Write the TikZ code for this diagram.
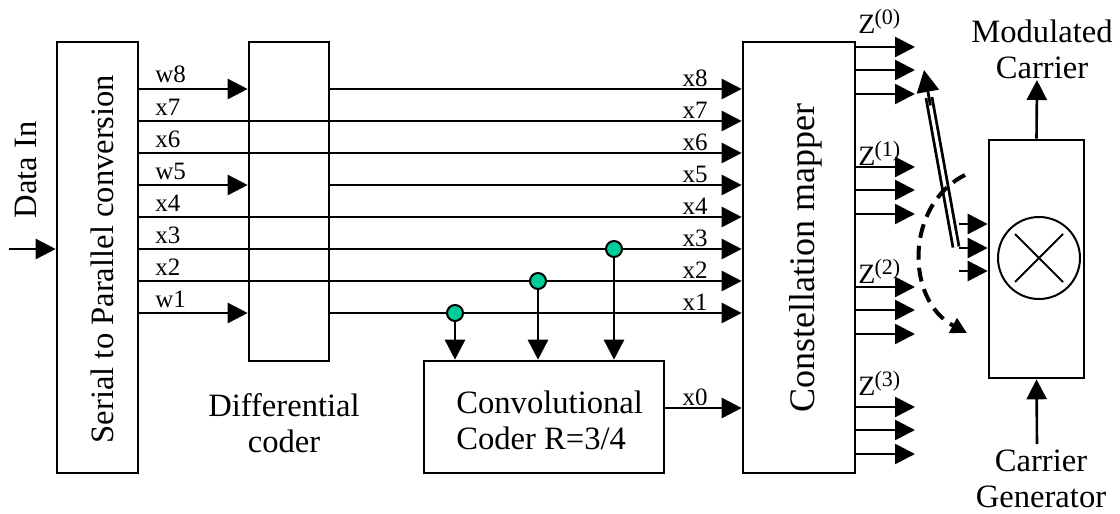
\documentclass[tikz,border=0pt]{standalone}
\usepackage{fontspec}
\setmainfont{Liberation Serif}
\usetikzlibrary{arrows.meta,calc,positioning}
\definecolor{tapgreen}{RGB}{0,204,153}

\tikzset{
    block/.style={draw, line width=1.3pt, inner sep=0pt},
    sig/.style={line width=1.3pt, -{Triangle[length=10pt,width=10pt]}},
    tap/.style={circle, draw, fill=tapgreen, line width=1pt, minimum size=8pt, inner sep=0pt},
    big/.style={font=\fontsize{16.3}{18}\selectfont, align=center, inner sep=0pt},
    lbl/.style={font=\fontsize{12.5}{15}\selectfont, inner sep=0pt},
}

\begin{document}
\begin{tikzpicture}[x=0.5pt, y=-0.5pt]
    \useasboundingbox (0,0) rectangle (1120,514);

    % Blocks
    \node[block, minimum width=40.5pt, minimum height=215.5pt] (sp) at (97.5,257.5) {};
    \node[block, minimum width=40pt, minimum height=159.5pt] (diff) at (289,201.5) {};
    \node[block, minimum width=120pt, minimum height=56pt] (conv) at (544,417) {};
    \node[block, minimum width=56pt, minimum height=215.5pt] (map) at (799,257.5) {};
    \node[block, minimum width=47.5pt, minimum height=119pt] (mult) at (1036.5,259) {};

    % Block texts
    \node[big, rotate=90] (sptext) at (102,259) {Serial to Parallel conversion};
    \node[big, rotate=90] (datain) at (26,170) {Data In};
    \node[big] (difftext) at (284,423) {Differential\\coder};
    \node[big, align=left, anchor=west] (convtext) at (456,420) {Convolutional\\Coder R=3/4};
    \node[big, rotate=90, font=\fontsize{18}{22}\selectfont] (maptext) at (806,258) {Constellation mapper};

    % Data input
    \coordinate (din) at (9,249);
    \draw[sig] (din) -- (din -| sp.west);

    % Uncoded bits straight to the mapper
    \foreach \y/\l in {121/x7, 153/x6, 217/x4, 249/x3, 281/x2} {
        \coordinate (c) at (0,\y);
        \draw[sig] (sp.east |- c) -- (map.west |- c);
        \node[lbl, anchor=base west] at (155,\y-6) {\l};
        \node[lbl, anchor=base east] at (708,\y-3) {\l};
    }

    % Bits through the differential coder
    \foreach \y/\l/\r in {89/w8/x8, 185/w5/x5, 313/w1/x1} {
        \coordinate (c) at (0,\y);
        \draw[sig] (sp.east |- c) -- (diff.west |- c);
        \draw[sig] (diff.east |- c) -- (map.west |- c);
        \node[lbl, anchor=base west] at (155,\y-6) {\l};
        \node[lbl, anchor=base east] at (708,\y-3) {\r};
    }

    % Taps into the convolutional coder
    \node[tap] (t1) at (455,313) {};
    \node[tap] (t2) at (538,281) {};
    \node[tap] (t3) at (614,249) {};
    \foreach \t in {t1,t2,t3}
        \draw[sig] (\t) -- (\t |- conv.north);

    % Coded bit
    \coordinate (c0) at (0,408);
    \draw[sig] (conv.east |- c0) -- (map.west |- c0);
    \node[lbl, anchor=base east] at (708,405) {x0};

    % Mapper outputs
    \foreach \g/\b/\t in {0/47/21, 1/167/153, 2/287/271, 3/407/383} {
        \foreach \d in {0,23,47} {
            \coordinate (zc) at (915,\b+\d);
            \draw[sig] (zc -| map.east) -- (zc);
        }
        \node[font=\fontsize{14}{16}\selectfont, anchor=west, inner sep=0pt] (z\g) at (858,\t)
            {Z\kern-0.5pt\raisebox{0.7ex}{\fontsize{11}{12}\selectfont(\g)}};
    }

    % Multiplier
    \node[circle, draw, line width=1pt, minimum size=41pt, inner sep=0pt] (mx) at (1039,258) {};
    \draw[line width=1pt] ($(mx)+(-24,-24)$) -- ($(mx)+(24,24)$);
    \draw[line width=1pt] ($(mx)+(-24,24)$) -- ($(mx)+(24,-24)$);

    % Switch inputs
    \foreach \y in {224,248,271} {
        \coordinate (m\y) at (959,\y);
        \draw[sig] (m\y) -- (m\y -| mult.west);
    }

    % Selector
    \coordinate (sw0) at (956,247);
    \coordinate (sw1) at (924,70);
    \draw[line width=1.4pt, double, double distance=1.6pt, shorten >=14pt] (sw0) -- (sw1);
    \draw[line width=1.4pt, -{Triangle[length=11pt,width=11pt]}] ($(sw0)!0.8!(sw1)$) -- (sw1);
    \coordinate (rot0) at (965,175);
    \coordinate (rot1) at (967,333);
    \draw[line width=2pt, dash pattern=on 7pt off 4pt, -{Triangle[length=8pt,width=8pt]}]
        (rot0) .. controls (905,205) and (905,300) .. (rot1);

    % Carrier in and out
    \coordinate (mc) at (1037,80);
    \draw[sig] (mult.north) -- (mc);
    \node[big, anchor=south] (mctext) at (1042,79) {Modulated\\Carrier};
    \coordinate (cgin) at (1037,444);
    \draw[sig] (cgin) -- (mult.south);
    \node[big, anchor=north] (cgtext) at (1041,450) {Carrier\\Generator};
\end{tikzpicture}
\end{document}
